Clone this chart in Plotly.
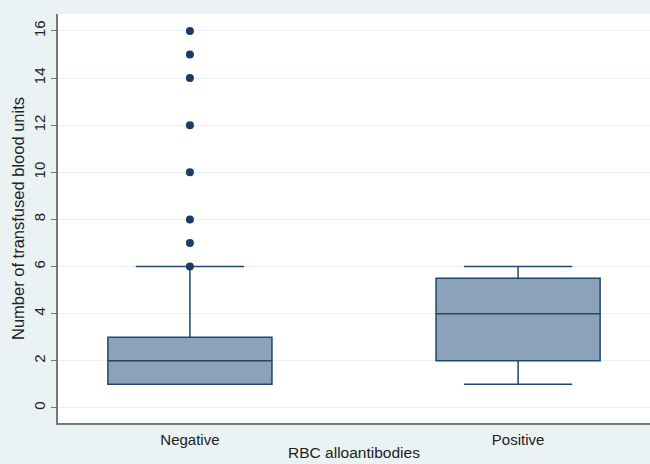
import plotly.graph_objects as go

# Groups and box summary statistics
groups = ["Negative", "Positive"]
positions = [0, 1]
lower_whisker = [1, 1]
q1 = [1, 2]
median = [2, 4]
q3 = [3, 5.5]
upper_whisker = [6, 6]

# Individually plotted observations in the Negative group
outlier_values = [6, 7, 8, 10, 12, 14, 15, 16]

y_ticks = [0, 2, 4, 6, 8, 10, 12, 14, 16]

line_col = "#1f466c"
fill_col = "#8ba2b8"
bg_col = "#eaf2f3"

fig = go.Figure()
fig.add_trace(go.Box(
    x=positions,
    q1=q1, median=median, q3=q3,
    lowerfence=lower_whisker, upperfence=upper_whisker,
    width=0.5, whiskerwidth=0.66,
    fillcolor=fill_col,
    line=dict(color=line_col, width=1.5),
    boxpoints=False,
    showlegend=False,
    hoverinfo="skip",
))
fig.add_trace(go.Scatter(
    x=[positions[0]] * len(outlier_values),
    y=outlier_values,
    mode="markers",
    marker=dict(color="#1a3d66", size=8),
    showlegend=False,
))

fig.update_layout(
    width=650, height=464,
    margin=dict(l=58, r=0, t=14, b=41),
    paper_bgcolor=bg_col,
    plot_bgcolor="white",
    font=dict(family="Liberation Sans, Arial, sans-serif", size=15, color="#222"),
    xaxis=dict(
        range=[-0.402, 1.402],
        tickvals=positions, ticktext=groups,
        tickfont=dict(size=15),
        showgrid=False, zeroline=False,
        showline=True, linecolor="#777", linewidth=2,
        ticks="", ticklabelstandoff=2,
        title=dict(text="RBC alloantibodies", standoff=0, font=dict(size=15.5)),
    ),
    yaxis=dict(
        range=[-0.64, 16.72],
        tickvals=y_ticks,
        tickangle=-90,
        tickfont=dict(size=15),
        showgrid=True, gridcolor="#eaeff1", gridwidth=1,
        zeroline=False,
        showline=True, linecolor="#777", linewidth=1.5,
        ticks="outside", ticklen=5, tickcolor="#777",
        title=dict(text="Number of transfused blood units", standoff=2, font=dict(size=16.5)),
    ),
)

fig.write_html("out.html")
